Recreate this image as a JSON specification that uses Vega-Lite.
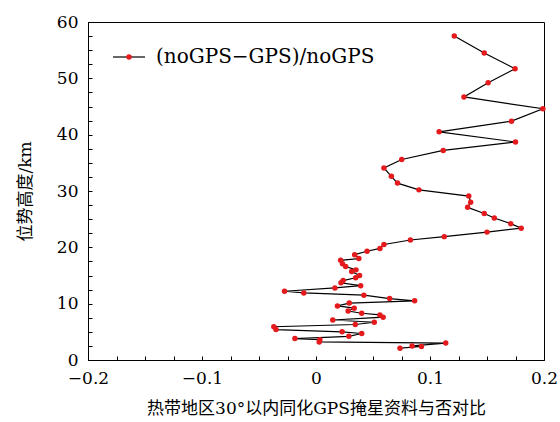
{
  "$schema": "https://vega.github.io/schema/vega-lite/v6.json",
  "width": 456,
  "height": 338,
  "autosize": {"type": "none"},
  "padding": {"left": 88, "top": 22, "right": 16, "bottom": 62},
  "background": "white",
  "config": {
    "view": {"stroke": "black", "strokeWidth": 1},
    "font": "DejaVu Serif",
    "axis": {
      "domainColor": "black",
      "tickColor": "black",
      "grid": false,
      "labelFont": "DejaVu Serif",
      "labelFontSize": 17,
      "labelColor": "black",
      "labelFlush": false,
      "titleFont": "DejaVu Serif, Noto Sans CJK SC",
      "titleFontSize": 17,
      "titleFontWeight": "normal",
      "titleColor": "black"
    },
    "legend": {"padding": 0}
  },
  "data": {"values": [
    {"r": 0.1213, "h": 57.5}, {"r": 0.1476, "h": 54.5}, {"r": 0.1746, "h": 51.7}, {"r": 0.151, "h": 49.2},
    {"r": 0.1298, "h": 46.7}, {"r": 0.199, "h": 44.6}, {"r": 0.1715, "h": 42.4}, {"r": 0.108, "h": 40.5},
    {"r": 0.175, "h": 38.7}, {"r": 0.1116, "h": 37.2}, {"r": 0.0752, "h": 35.6}, {"r": 0.0596, "h": 34.1},
    {"r": 0.0661, "h": 32.6}, {"r": 0.0715, "h": 31.4}, {"r": 0.0903, "h": 30.2}, {"r": 0.134, "h": 29.1},
    {"r": 0.1357, "h": 28.0}, {"r": 0.133, "h": 27.1}, {"r": 0.1476, "h": 26.0}, {"r": 0.1564, "h": 25.2},
    {"r": 0.1708, "h": 24.2}, {"r": 0.18, "h": 23.4}, {"r": 0.15, "h": 22.7}, {"r": 0.1125, "h": 21.9},
    {"r": 0.0828, "h": 21.3}, {"r": 0.0596, "h": 20.5}, {"r": 0.0561, "h": 19.8}, {"r": 0.0448, "h": 19.3},
    {"r": 0.0339, "h": 18.7}, {"r": 0.0376, "h": 18.0}, {"r": 0.0216, "h": 17.7}, {"r": 0.0232, "h": 17.1},
    {"r": 0.026, "h": 16.6}, {"r": 0.0351, "h": 16.0}, {"r": 0.0313, "h": 15.7}, {"r": 0.0382, "h": 15.0},
    {"r": 0.0348, "h": 14.6}, {"r": 0.0238, "h": 14.1}, {"r": 0.0219, "h": 13.7}, {"r": 0.0392, "h": 13.2},
    {"r": 0.0166, "h": 12.8}, {"r": -0.0276, "h": 12.2}, {"r": -0.0107, "h": 11.9}, {"r": 0.042, "h": 11.5},
    {"r": 0.0646, "h": 10.9}, {"r": 0.0865, "h": 10.5}, {"r": 0.0292, "h": 10.1}, {"r": 0.0188, "h": 9.6},
    {"r": 0.0335, "h": 9.2}, {"r": 0.0282, "h": 8.7}, {"r": 0.0401, "h": 8.3}, {"r": 0.0561, "h": 8.0},
    {"r": 0.0589, "h": 7.6}, {"r": 0.0147, "h": 7.1}, {"r": 0.0511, "h": 6.7}, {"r": 0.0345, "h": 6.3},
    {"r": -0.037, "h": 5.9}, {"r": -0.0351, "h": 5.4}, {"r": 0.0229, "h": 5.0}, {"r": 0.0401, "h": 4.7},
    {"r": 0.0288, "h": 4.2}, {"r": -0.0185, "h": 3.8}, {"r": 0.0034, "h": 3.6}, {"r": 0.0028, "h": 3.2},
    {"r": 0.1138, "h": 3.0}, {"r": 0.0843, "h": 2.5}, {"r": 0.0925, "h": 2.4}, {"r": 0.0737, "h": 2.1}
  ]},
  "layer": [
    {
      "mark": {"type": "line", "strokeWidth": 1.2},
      "encoding": {
        "x": {
          "field": "r", "type": "quantitative",
          "scale": {"domain": [-0.2, 0.2], "nice": false, "zero": false},
          "axis": {
            "orient": "bottom",
            "values": [-0.2, -0.1, 0, 0.1, 0.2],
            "format": "~g",
            "ticks": false,
            "labelPadding": 10,
            "title": "热带地区30°以内同化GPS掩星资料与否对比",
            "titlePadding": 14
          }
        },
        "y": {
          "field": "h", "type": "quantitative",
          "scale": {"domain": [0, 60], "nice": false},
          "axis": {
            "orient": "left",
            "values": [0, 10, 20, 30, 40, 50, 60],
            "format": "d",
            "ticks": false,
            "labelPadding": 10,
            "title": "位势高度/km",
            "titlePadding": 22
          }
        },
        "order": {"field": "h", "type": "quantitative"},
        "color": {
          "datum": "(noGPS−GPS)/noGPS",
          "scale": {"range": ["black"]},
          "legend": {
            "title": null, "orient": "none", "legendX": 24, "legendY": 18,
            "symbolType": "stroke", "symbolSize": 1024, "symbolStrokeWidth": 1.2,
            "labelFont": "DejaVu Serif", "labelFontSize": 20, "labelColor": "black", "labelOffset": 10, "labelLimit": 400
          }
        }
      }
    },
    {
      "mark": {"type": "circle", "size": 30, "opacity": 1},
      "encoding": {
        "x": {
          "field": "r", "type": "quantitative",
          "axis": {
            "orient": "top", "offset": -338,
            "values": [-0.2, -0.175, -0.15, -0.125, -0.1, -0.075, -0.05, -0.025, 0, 0.025, 0.05, 0.075, 0.1, 0.125, 0.15, 0.175, 0.2],
            "labels": false, "domain": false, "title": null, "tickSize": 4, "tickWidth": 1
          }
        },
        "y": {
          "field": "h", "type": "quantitative",
          "axis": {
            "orient": "right", "offset": -456,
            "values": [0, 2.5, 5, 7.5, 10, 12.5, 15, 17.5, 20, 22.5, 25, 27.5, 30, 32.5, 35, 37.5, 40, 42.5, 45, 47.5, 50, 52.5, 55, 57.5, 60],
            "labels": false, "domain": false, "title": null, "tickSize": 4, "tickWidth": 1
          }
        },
        "fill": {
          "datum": "pt",
          "scale": {"range": ["#e41a1c"]},
          "legend": {
            "title": null, "orient": "none", "legendX": 38, "legendY": 32,
            "symbolType": "circle", "symbolSize": 30, "symbolStrokeWidth": 0, "symbolOpacity": 1,
            "labelExpr": "''", "labelFontSize": 1
          }
        }
      }
    }
  ]
}
